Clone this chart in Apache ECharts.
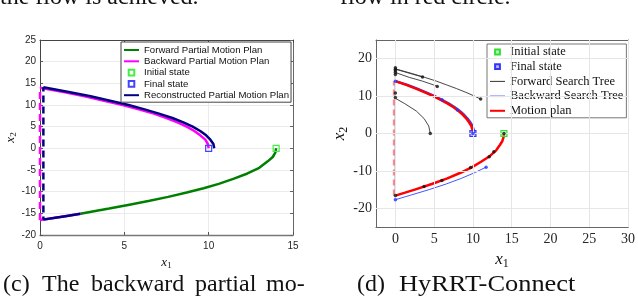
<!DOCTYPE html>
<html><head><meta charset="utf-8">
<script src="https://cdn.jsdelivr.net/npm/echarts@6/dist/echarts.min.js"></script>
<style>html,body{margin:0;padding:0;background:#fff}#c{width:638px;height:298px}</style>
</head><body><div id="c"></div>
<script>
// ---------- Left panel (c) ----------
const leftXTicks = [0, 5, 10, 15];
const leftYTicks = [-20, -15, -10, -5, 0, 5, 10, 15, 20, 25];
const fwdPlanX = [14.0, 13.95, 13.8, 13.5, 13.0, 12.3, 11.5, 10.6, 9.7, 8.7, 7.6, 6.5, 5.3, 4.1, 3.2, 2.4];
const fwdPlanY = [0, -1.0, -2.0, -3.0, -4.5, -5.8, -7.0, -8.2, -9.2, -10.2, -11.2, -12.1, -13.0, -13.9, -14.5, -15.1];
const bwdUpperX = [0, 1.4, 2.65, 3.8, 4.9, 5.85, 6.75, 7.5, 8.15, 8.7, 9.15, 9.5, 9.8, 9.95, 10.0];
const bwdUpperY = [14, 13, 12, 11, 10, 9, 8, 7, 6, 5, 4, 3, 2, 1, 0];
const bwdLowerX = [2.4, 1.2, 0];
const bwdLowerY = [-15.1, -15.85, -16.55];
const bwdJumpX = [0, 0];
const bwdJumpY = [-16.55, 14];
const recUpperX = [0.2, 1.7, 3.0, 4.15, 5.25, 6.2, 7.05, 7.85, 8.5, 9.05, 9.5, 9.85, 10.1, 10.28, 10.33];
const recUpperY = [14.1, 13, 12, 11, 10, 9, 8, 7, 6, 5, 4, 3, 2, 1, 0];
const recLowerX = [2.4, 1.6, 0.8, 0.2];
const recLowerY = [-15.1, -15.6, -16.1, -16.45];
const recJumpX = [0.2, 0.2];
const recJumpY = [-16.45, 14.1];
const leftInit = [[14, 0]];
const leftFinal = [[10, 0]];

// ---------- Right panel (d) ----------
const rightXTicks = [0, 5, 10, 15, 20, 25, 30];
const rightYTicks = [-20, -10, 0, 10, 20];
const treeVertX = [0, 0];
const treeVertY = [-16.6, 17.6];
const treeAX = [0, 2.2, 3.8, 5.3, 6.6, 7.9, 9.1, 10.2, 11.0];
const treeAY = [17.3, 16.0, 15.0, 14.0, 13.0, 12.0, 11.0, 10.0, 9.2];
const treeBX = [0, 2.0, 3.5];
const treeBY = [17.2, 16.0, 15.1];
const treeCX = [0, 1.8, 3.5, 4.9, 5.4];
const treeCY = [16.3, 15.0, 14.0, 13.0, 12.6];
const treeDX = [0, 1.2, 2.7, 3.7, 4.3, 4.5];
const treeDY = [9.4, 8.0, 6.0, 4.0, 2.0, 0];
const planLowerX = [14, 13.95, 13.8, 13.5, 13.0, 12.2, 11.1, 9.9, 8.4, 6.7, 4.7, 2.5, 0];
const planLowerY = [0, -1, -2, -3, -4.5, -6, -7.5, -9, -10.5, -12, -13.5, -15, -16.6];
const planUpperX = [0, 1.4, 2.65, 3.8, 4.9, 5.85, 6.75, 7.5, 8.15, 8.7, 9.15, 9.5, 9.8, 9.95, 10.0];
const planUpperY = [14, 13, 12, 11, 10, 9, 8, 7, 6, 5, 4, 3, 2, 1, 0];
const planJumpX = [-0.2, -0.2];
const planJumpY = [-16.6, 14];
const bTreeUpperX = [0, 1.55, 2.8, 3.95, 5.05, 6.0, 6.9, 7.65, 8.3, 8.85, 9.3, 9.65, 9.95, 10.1, 10.15];
const bTreeUpperY = [14, 13, 12, 11, 10, 9, 8, 7, 6, 5, 4, 3, 2, 1, 0];
const bTreeLowerX = [0, 1.95, 4.35, 6.55, 8.5, 10.2, 11.7];
const bTreeLowerY = [-17.7, -16.5, -15, -13.5, -12, -10.5, -9];
const bTreeVertX = [0, 0];
const bTreeVertY = [-17.7, 14];
const blackDotX = [0, 0, 0, 0, 0, 3.5, 5.4, 11.0, 0, 0, 4.5, 14, 12.7, 12.1, 9.7, 6.0, 3.7, 0];
const blackDotY = [17.6, 17.2, 16.8, 16.3, 15.8, 15.1, 12.6, 9.2, 10.8, 9.6, 0, 0, -4.9, -6.2, -9.1, -12.6, -14.2, -16.6];
const blueDotX = [0, 11.7, 0, 6.0, 8.0, 10.0];
const blueDotY = [-17.7, -9.0, 14.0, 9.0, 6.3, 0];
const rightInit = [[14, 0]];
const rightFinal = [[10, 0]];

// ---------- Surrounding page text ----------
const topTexts = ['the flow is achieved.', 'flow in red circle.'];
const captionC = ['(c)', 'The', 'backward', 'partial', 'mo-'];
const captionD = ['(d)', 'HyRRT-Connect'];

const zip = (a, b) => a.map((v, i) => [v, b[i]]);

const SANS = '"Liberation Sans", Arial, sans-serif';
const SERIF = '"Liberation Serif", "Times New Roman", serif';
const CAPFONT = '24px "Liberation Serif"';

function boxAxis(gridIndex, pos, min, max, ticks, color) {
  return {
    gridIndex, type: 'value', position: pos, min, max,
    axisLine: { show: true, onZero: false, lineStyle: { color, width: 1 } },
    axisTick: { show: true, inside: true, length: 3, customValues: ticks, lineStyle: { color } },
    axisLabel: { show: false, customValues: ticks },
    splitLine: { show: false }
  };
}

const nameRich = (size) => ({
  i: { fontFamily: SERIF, fontStyle: 'italic', fontSize: size, color: '#111' },
  s: { fontFamily: SERIF, fontSize: Math.round(size * 0.7), color: '#111', padding: [Math.round(size * 0.45), 0, 0, 0] }
});

const lineS = (name, xi, data, color, width, extra) => Object.assign({
  name, type: 'line', xAxisIndex: xi, yAxisIndex: xi, data, symbol: 'none',
  lineStyle: { color, width }, itemStyle: { color }, silent: true, z: 3
}, extra || {});

const capText = (text, x, y, sx) => ({
  type: 'text', x, y, scaleX: sx || 1, silent: true,
  style: { text, font: CAPFONT, fill: '#111', verticalAlign: 'middle' }
});

const option = {
  animation: false,
  backgroundColor: '#fff',
  grid: [
    { left: 40, top: 40, width: 253, height: 195, containLabel: false },
    { left: 376, top: 40, width: 255, height: 187, containLabel: false }
  ],
  xAxis: [
    {
      gridIndex: 0, type: 'value', position: 'bottom', min: 0, max: 15, interval: 5,
      axisLine: { show: true, onZero: false, lineStyle: { color: '#777', width: 1.3 } },
      axisTick: { show: true, inside: true, length: 3, lineStyle: { color: '#555' } },
      axisLabel: { fontFamily: SANS, fontSize: 10, color: '#262626', margin: 6 },
      splitLine: { show: true, lineStyle: { color: '#ebebeb', width: 1 } },
      name: '{i|x}{s|1}', nameLocation: 'middle', nameGap: 14,
      nameTextStyle: { rich: nameRich(13) }
    },
    boxAxis(0, 'top', 0, 15, leftXTicks, '#444'),
    {
      gridIndex: 1, type: 'value', position: 'bottom', min: -2.5, max: 30,
      axisLine: { show: true, onZero: false, lineStyle: { color: '#666', width: 1 } },
      axisTick: { show: true, inside: true, length: 3, customValues: rightXTicks, lineStyle: { color: '#666' } },
      axisLabel: { customValues: rightXTicks, fontFamily: SERIF, fontSize: 14, color: '#262626', margin: 5 },
      splitLine: { show: false },
      name: '{i|x}{s|1}', nameLocation: 'middle', nameGap: 20,
      nameTextStyle: { rich: nameRich(17) }
    },
    boxAxis(1, 'top', -2.5, 30, rightXTicks, '#666')
  ],
  yAxis: [
    {
      gridIndex: 0, type: 'value', position: 'left', min: -20, max: 25, interval: 5,
      axisLine: { show: true, onZero: false, lineStyle: { color: '#444', width: 1 } },
      axisTick: { show: true, inside: true, length: 3, lineStyle: { color: '#555' } },
      axisLabel: { fontFamily: SANS, fontSize: 10, color: '#262626', margin: 4 },
      splitLine: { show: true, lineStyle: { color: '#ebebeb', width: 1 } },
      name: '{i|x}{s|2}', nameLocation: 'middle', nameGap: 20, nameRotate: 90,
      nameTextStyle: { rich: nameRich(13) }
    },
    boxAxis(0, 'right', -20, 25, leftYTicks, '#666'),
    {
      gridIndex: 1, type: 'value', position: 'left', min: -25, max: 25,
      axisLine: { show: true, onZero: false, lineStyle: { color: '#666', width: 1 } },
      axisTick: { show: true, inside: true, length: 3, customValues: rightYTicks, lineStyle: { color: '#666' } },
      axisLabel: { customValues: rightYTicks, fontFamily: SERIF, fontSize: 14, color: '#262626', margin: 4 },
      splitLine: { show: false },
      name: '{i|x}{s|2}', nameLocation: 'middle', nameGap: 26, nameRotate: 90,
      nameTextStyle: { rich: nameRich(17) }
    },
    boxAxis(1, 'right', -25, 25, rightYTicks, '#666')
  ],
  legend: [
    {
      left: 121, top: 42, orient: 'vertical', selectedMode: false,
      backgroundColor: '#fff', borderColor: '#444', borderWidth: 1, borderRadius: 0,
      padding: [3, 2, 2, 2], itemGap: 1.3, itemWidth: 15, itemHeight: 7,
      textStyle: { fontFamily: SANS, fontSize: 9.6, color: '#111', lineHeight: 10 },
      data: [
        { name: 'Forward Partial Motion Plan', itemStyle: { opacity: 0 } },
        { name: 'Backward Partial Motion Plan', itemStyle: { opacity: 0 } },
        { name: 'Initial state' },
        { name: 'Final state' },
        { name: 'Reconstructed Partial Motion Plan', itemStyle: { opacity: 0 } }
      ]
    },
    {
      left: 487, top: 44, orient: 'vertical', selectedMode: false,
      backgroundColor: '#fff', borderColor: '#777', borderWidth: 1, borderRadius: 0,
      padding: [1.5, 3, 0.5, 2], itemGap: 1.7, itemWidth: 15, itemHeight: 6,
      textStyle: { fontFamily: SERIF, fontSize: 12.5, color: '#111', lineHeight: 13 },
      data: [
        { name: 'Initial state ' },
        { name: 'Final state ' },
        { name: 'Forward Search Tree', itemStyle: { opacity: 0 }, lineStyle: { color: '#333', width: 1 } },
        { name: 'Backward Search Tree', itemStyle: { opacity: 0 }, lineStyle: { color: '#a9b0ff', width: 2 } },
        { name: 'Motion plan', itemStyle: { opacity: 0 }, lineStyle: { color: '#ff0000', width: 2 } }
      ]
    }
  ],
  series: [
    // ----- left -----
    lineS('Forward Partial Motion Plan', 0, zip(fwdPlanX, fwdPlanY), '#008000', 2.5),
    lineS('Backward Partial Motion Plan', 0, zip(bwdUpperX, bwdUpperY), '#ff00ff', 2.5),
    lineS('Backward Partial Motion Plan', 0, zip(bwdLowerX, bwdLowerY), '#ff00ff', 2.5),
    lineS('Backward Partial Motion Plan', 0, zip(bwdJumpX, bwdJumpY), '#ff00ff', 2.5, { lineStyle: { color: '#ff00ff', width: 2.5, type: [7, 4] } }),
    {
      name: 'Initial state', type: 'line', xAxisIndex: 0, yAxisIndex: 0, data: leftInit,
      symbol: 'rect', symbolSize: 6, lineStyle: { opacity: 0 }, silent: true, z: 4,
      itemStyle: { color: 'rgba(255,255,255,0)', borderColor: '#44ee44', borderWidth: 1.2 }
    },
    {
      name: 'Final state', type: 'line', xAxisIndex: 0, yAxisIndex: 0, data: leftFinal,
      symbol: 'rect', symbolSize: 6, lineStyle: { opacity: 0 }, silent: true, z: 4,
      itemStyle: { color: 'rgba(255,255,255,0)', borderColor: '#4444ff', borderWidth: 1.2 }
    },
    lineS('Reconstructed Partial Motion Plan', 0, zip(recUpperX, recUpperY), '#000080', 2.5),
    lineS('Reconstructed Partial Motion Plan', 0, zip(recLowerX, recLowerY), '#000080', 2.5),
    lineS('Reconstructed Partial Motion Plan', 0, zip(recJumpX, recJumpY), '#000080', 2.5, { lineStyle: { color: '#000080', width: 2.5, type: [7, 4], dashOffset: 4 } }),
    // ----- right -----
    {
      name: 'grid', type: 'line', xAxisIndex: 2, yAxisIndex: 2, data: [], z: 0, silent: true,
      markLine: {
        silent: true, symbol: ['none', 'none'], label: { show: false }, animation: false,
        lineStyle: { color: '#e6e6e6', width: 1, type: 'solid' },
        emphasis: { disabled: true },
        data: rightXTicks.map(v => ({ xAxis: v })).concat(rightYTicks.map(v => ({ yAxis: v })))
      }
    },
    lineS('Forward Search Tree', 2, zip(treeVertX, treeVertY), '#333', 0.9),
    lineS('Forward Search Tree', 2, zip(treeAX, treeAY), '#333', 0.9),
    lineS('Forward Search Tree', 2, zip(treeBX, treeBY), '#333', 0.9),
    lineS('Forward Search Tree', 2, zip(treeCX, treeCY), '#333', 0.9),
    lineS('Forward Search Tree', 2, zip(treeDX, treeDY), '#333', 0.9),
    lineS('Forward Search Tree', 2, zip(planLowerX, planLowerY), '#333', 0.9),
    lineS('Backward Search Tree', 2, zip(bTreeUpperX, bTreeUpperY), '#3040ff', 2.5),
    lineS('Backward Search Tree', 2, zip(bTreeLowerX, bTreeLowerY), '#4455ff', 1),
    lineS('Backward Search Tree', 2, zip(bTreeVertX, bTreeVertY), '#3040ff', 1),
    lineS('Motion plan', 2, zip(planLowerX, planLowerY), '#ff0000', 2.5),
    lineS('Motion plan', 2, zip(planUpperX, planUpperY), '#ff0000', 2.5),
    lineS('Motion plan', 2, zip(planJumpX, planJumpY), 'rgba(255,60,60,0.6)', 2, { lineStyle: { color: 'rgba(255,60,60,0.6)', width: 2, type: [6, 4] } }),
    {
      name: 'Initial state ', type: 'line', xAxisIndex: 2, yAxisIndex: 2, data: rightInit,
      symbol: 'rect', symbolSize: 6, lineStyle: { opacity: 0 }, silent: true, z: 4,
      itemStyle: { color: 'rgba(120,255,120,0.5)', borderColor: '#33dd33', borderWidth: 1.2 }
    },
    {
      name: 'Final state ', type: 'line', xAxisIndex: 2, yAxisIndex: 2, data: rightFinal,
      symbol: 'rect', symbolSize: 6, lineStyle: { opacity: 0 }, silent: true, z: 4,
      itemStyle: { color: 'rgba(120,120,255,0.5)', borderColor: '#3333ff', borderWidth: 1.2 }
    },
    {
      name: 'tree nodes f', type: 'scatter', xAxisIndex: 2, yAxisIndex: 2, data: zip(blackDotX, blackDotY),
      symbol: 'circle', symbolSize: 3.5, itemStyle: { color: '#111' }, silent: true, z: 5
    },
    {
      name: 'tree nodes b', type: 'scatter', xAxisIndex: 2, yAxisIndex: 2, data: zip(blueDotX, blueDotY),
      symbol: 'circle', symbolSize: 3.5, itemStyle: { color: '#2233ff' }, silent: true, z: 5
    }
  ],
  graphic: [
    { type: 'text', x: 0, y: 10, silent: true, style: { text: topTexts[0], font: CAPFONT, fill: '#111', verticalAlign: 'bottom' } },
    { type: 'text', x: 340, y: 10, silent: true, style: { text: topTexts[1], font: CAPFONT, fill: '#111', verticalAlign: 'bottom' } },
    capText(captionC[0], 3, 285),
    capText(captionC[1], 42, 285),
    capText(captionC[2], 91, 285),
    capText(captionC[3], 195, 285),
    capText(captionC[4], 266, 285),
    capText(captionD[0], 357, 285),
    capText(captionD[1], 399, 285, 1.1)
  ]
};

const chart = echarts.init(document.getElementById('c'), null, { renderer: 'canvas' });
chart.setOption(option);
</script>
</body></html>
